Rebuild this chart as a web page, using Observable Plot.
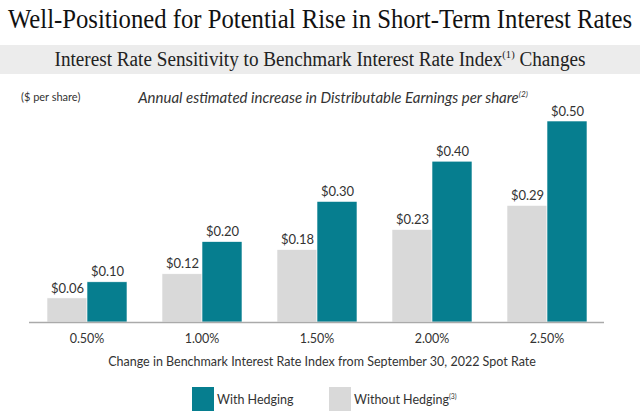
<!DOCTYPE html>
<html><head><meta charset="utf-8">
<script src="https://cdn.jsdelivr.net/npm/d3@7"></script>
<script src="https://cdn.jsdelivr.net/npm/@observablehq/plot@0.6"></script>
<style>
body{margin:0;width:640px;height:412px;position:relative;overflow:hidden;background:#fff;font-family:Lato,sans-serif;color:#333}
.abs{position:absolute}
.fit{position:absolute;left:50%;top:0;white-space:nowrap;transform-origin:center center}
#title{top:2px;left:0;width:640px;height:34px;font-family:"Liberation Serif",serif;font-size:27px;line-height:34px;color:#111}
#band{top:45px;left:0;width:640px;height:29px;background:#ececec}
#sub{top:45px;left:0;width:640px;height:29px;line-height:29px;font-family:"Liberation Serif",serif;font-size:20px;color:#222}
#sub sup,#legend sup,#note sup{font-size:0.55em;line-height:0}
#unit{top:90px;left:21px;font-size:11px;color:#333}
#note{top:88px;left:0;width:640px;text-align:center;font-style:italic;font-size:15px;color:#333;padding-left:26px;box-sizing:border-box}
#chart{top:80px;left:0}
#xlabel{top:354px;left:0;width:640px;text-align:center;font-size:12.5px;color:#333;padding-left:4px;box-sizing:border-box}
.sw{width:22px;height:24px}
.lt{font-size:12.5px;color:#333;line-height:24px}
</style></head>
<body>
<div id="title" class="abs"><span class="fit" data-w="624">Well-Positioned for Potential Rise in Short-Term Interest Rates</span></div>
<div id="band" class="abs"></div>
<div id="sub" class="abs"><span class="fit" data-w="531">Interest Rate Sensitivity to Benchmark Interest Rate Index<sup>(1)</sup> Changes</span></div>
<div id="chart" class="abs"></div>
<div id="unit" class="abs">($ per share)</div>
<div id="note" class="abs">Annual estimated increase in Distributable Earnings per share<sup>(2)</sup></div>
<div id="xlabel" class="abs">Change in Benchmark Interest Rate Index from September 30, 2022 Spot Rate</div>
<div id="legend"></div>
<script>
const rates = ["0.50%", "1.00%", "1.50%", "2.00%", "2.50%"];
const withHedging = [0.10, 0.20, 0.30, 0.40, 0.50];
const withoutHedging = [0.06, 0.12, 0.18, 0.23, 0.29];
const seriesNames = ["Without Hedging", "With Hedging"];
const seriesColors = ["#d9d9d9", "#067e8f"];

const rows = rates.flatMap((r, i) => [
  {rate: r, series: seriesNames[0], value: withoutHedging[i]},
  {rate: r, series: seriesNames[1], value: withHedging[i]}
]);

const chart = Plot.plot({
  width: 640, height: 300,
  marginLeft: 27, marginRight: 34, marginTop: 41, marginBottom: 58,
  facet: {data: rows, x: "rate"},
  fx: {domain: rates, padding: 0, axis: "bottom", tickSize: 0, tickPadding: 12, label: null},
  x: {domain: seriesNames, paddingInner: 0, paddingOuter: 0.43, axis: null},
  y: {domain: [0, 0.5], axis: null},
  color: {domain: seriesNames, range: seriesColors},
  style: {fontFamily: "Lato, sans-serif", fontSize: "12.5px", color: "#333", background: "transparent"},
  marks: [
    Plot.barY(rows, {x: "series", y: "value", fill: "series", stroke: "white", strokeWidth: 0.6}),
    Plot.text(rows, {x: "series", y: "value", text: d => "$" + d.value.toFixed(2), dy: -10, fontSize: 13, fill: "#333"}),
    Plot.ruleY([0], {stroke: "#aaaaaa", strokeWidth: 1.5})
  ]
});
document.getElementById("chart").appendChild(chart);

// legend
const legendPos = [{sw: 192, tx: 217}, {sw: 329, tx: 354}];
const legendOrder = [1, 0];
const lg = document.getElementById("legend");
legendOrder.forEach((si, k) => {
  const sw = document.createElement("div");
  sw.className = "abs sw";
  sw.style.left = legendPos[k].sw + "px";
  sw.style.top = "387px";
  sw.style.background = seriesColors[si];
  lg.appendChild(sw);
  const t = document.createElement("div");
  t.className = "abs lt";
  t.style.left = legendPos[k].tx + "px";
  t.style.top = "388px";
  t.innerHTML = seriesNames[si] + (si === 0 ? "<sup>(3)</sup>" : "");
  lg.appendChild(t);
});

// fit title widths
document.querySelectorAll(".fit").forEach(el => {
  const w = el.getBoundingClientRect().width;
  const target = +el.dataset.w;
  el.style.transform = `translateX(-50%) scaleX(${target / w})`;
});
</script>
</body></html>
